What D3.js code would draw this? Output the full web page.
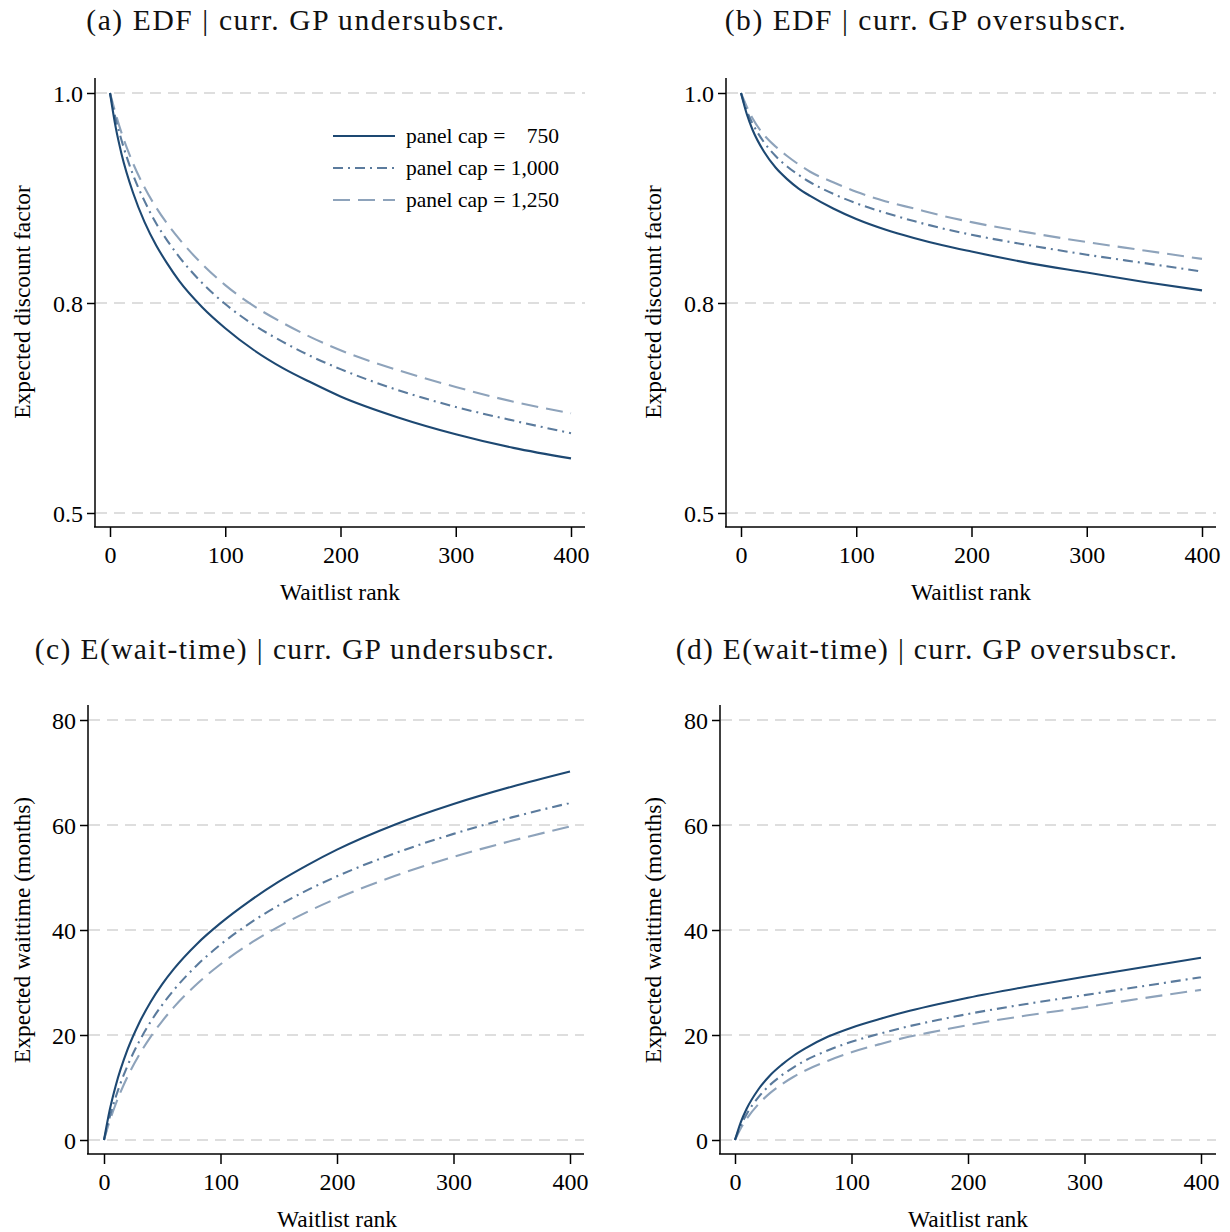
<!DOCTYPE html>
<html><head><meta charset="utf-8">
<script src="https://cdn.jsdelivr.net/npm/d3@7"></script>
<style>body{margin:0;background:#fff}</style>
</head><body>
<svg id="chart" width="1230" height="1232" xmlns="http://www.w3.org/2000/svg"></svg>
<script>
// ---------- data ----------
const ranks = [0,5,10,20,30,40,50,60,80,100,125,150,175,200,250,300,350,400];
const capLabels = ["750","1,000","1,250"];

const edfUnder750  = [1.000,0.967,0.942,0.905,0.877,0.855,0.837,0.821,0.796,0.776,0.755,0.738,0.724,0.711,0.691,0.675,0.662,0.652];
const edfUnder1000 = [1.000,0.975,0.955,0.922,0.897,0.876,0.859,0.844,0.819,0.799,0.779,0.763,0.749,0.737,0.717,0.701,0.688,0.676];
const edfUnder1250 = [1.000,0.980,0.962,0.933,0.910,0.891,0.875,0.861,0.837,0.817,0.797,0.781,0.767,0.755,0.736,0.720,0.706,0.695];

const edfOver750  = [1.000,0.980,0.965,0.944,0.929,0.918,0.909,0.902,0.890,0.880,0.870,0.862,0.855,0.849,0.838,0.829,0.820,0.812];
const edfOver1000 = [1.000,0.983,0.971,0.953,0.940,0.930,0.922,0.915,0.904,0.895,0.886,0.878,0.871,0.865,0.855,0.846,0.838,0.830];
const edfOver1250 = [1.000,0.987,0.976,0.960,0.949,0.940,0.932,0.925,0.915,0.906,0.897,0.890,0.883,0.877,0.867,0.858,0.850,0.842];

const waitUnder750  = [0,5.8,10.3,17.1,22.2,26.3,29.7,32.6,37.4,41.3,45.5,49.2,52.4,55.3,60.1,64.0,67.3,70.2];
const waitUnder1000 = [0,4.45,8.14,14.05,18.69,22.51,25.76,28.59,33.33,37.22,41.27,44.69,47.64,50.23,54.64,58.31,61.45,64.2];
const waitUnder1250 = [0,3.67,6.81,11.98,16.15,19.65,22.66,25.30,29.77,33.47,37.36,40.65,43.51,46.03,50.33,53.92,56.99,59.7];

const waitOver750  = [0,3.42,5.95,9.62,12.29,14.3,16.0,17.4,19.7,21.4,23.1,24.6,25.9,27.1,29.2,31.1,32.9,34.7];
const waitOver1000 = [0,2.80,4.93,8.12,10.48,12.3,13.8,15.1,17.1,18.7,20.3,21.7,22.9,24.0,25.9,27.6,29.3,31.0];
const waitOver1250 = [0,2.23,4.02,6.80,8.92,10.6,12.0,13.2,15.1,16.7,18.3,19.7,20.8,21.9,23.7,25.3,27.0,28.6];

const xTicks = [0,100,200,300,400];
const edfTickValues = [0.6,0.8,1.0];
const edfTickLabels = ["0.5","0.8","1.0"];
const waitTickValues = [0,20,40,60,80];
const waitTickLabels = ["0","20","40","60","80"];

const titles = ["(a) EDF | curr. GP undersubscr.","(b) EDF | curr. GP oversubscr.",
                "(c) E(wait-time) | curr. GP undersubscr.","(d) E(wait-time) | curr. GP oversubscr."];
const xTitle = "Waitlist rank";
const yTitles = ["Expected discount factor","Expected waittime (months)"];

// ---------- styles ----------
const colors = ["#1d4872","#5b7b9d","#8ea3bb"];
const dashes = [null,"10,5,2,5","17,8"];
const serif = "'Liberation Serif', 'Times New Roman', serif";

const svg = d3.select("#chart");

const panels = [
  {title:titles[0], tw:418, tcx:296, tby:30, ax:95, xr:[110,571], xEnd:585, yTop:78, xAxisY:527,
   yd:[0.6,1.0], yr:[513,93], tv:edfTickValues, tl:edfTickLabels, ytitle:yTitles[0], ytx:22, ytcy:302,
   xtcx:340, series:[edfUnder750,edfUnder1000,edfUnder1250], legend:true},
  {title:titles[1], tw:401, tcx:926, tby:30, ax:726, xr:[741,1202], xEnd:1216, yTop:78, xAxisY:527,
   yd:[0.6,1.0], yr:[513,93], tv:edfTickValues, tl:edfTickLabels, ytitle:yTitles[0], ytx:653, ytcy:302,
   xtcx:971, series:[edfOver750,edfOver1000,edfOver1250]},
  {title:titles[2], tw:519, tcx:295, tby:659, ax:88, xr:[104,570], xEnd:584, yTop:705, xAxisY:1154,
   yd:[0,80], yr:[1140,720], tv:waitTickValues, tl:waitTickLabels, ytitle:yTitles[1], ytx:22, ytcy:930,
   xtcx:337, series:[waitUnder750,waitUnder1000,waitUnder1250]},
  {title:titles[3], tw:501, tcx:927, tby:659, ax:720, xr:[735,1201], xEnd:1216, yTop:705, xAxisY:1154,
   yd:[0,80], yr:[1140,720], tv:waitTickValues, tl:waitTickLabels, ytitle:yTitles[1], ytx:653, ytcy:930,
   xtcx:968, series:[waitOver750,waitOver1000,waitOver1250]}
];

function spreadText(sel, target){
  const n = sel.node();
  const w = n.getComputedTextLength();
  const len = sel.text().length;
  if (w>0 && len>1) {
    const ls = Math.max(0,(target-w)/(len-1));
    sel.attr("letter-spacing", ls.toFixed(2));
    if (w>target) sel.attr("font-size", (parseFloat(sel.attr("font-size"))*target/w).toFixed(2));
  }
}

panels.forEach(p=>{
  const g = svg.append("g");
  const x = d3.scaleLinear().domain([0,400]).range(p.xr);
  const y = d3.scaleLinear().domain(p.yd).range(p.yr);

  // title
  const t = g.append("text").attr("x",p.tcx).attr("y",p.tby).attr("text-anchor","middle")
    .attr("font-family",serif).attr("font-size",29.5).attr("fill","#111").text(p.title);
  spreadText(t,p.tw);

  // gridlines
  g.selectAll(".grid").data(p.tv).enter().append("line")
    .attr("x1",p.ax+1).attr("x2",p.xEnd).attr("y1",d=>y(d)).attr("y2",d=>y(d))
    .attr("stroke","#d3d3d3").attr("stroke-width",1.3).attr("stroke-dasharray","11,7");

  // y axis
  const yAxis = d3.axisLeft(y).tickValues(p.tv).tickSize(8).tickFormat((d,i)=>p.tl[i]);
  const ya = g.append("g").attr("transform",`translate(${p.ax},0)`).call(yAxis);
  ya.select(".domain").remove();
  ya.append("line").attr("x1",0).attr("x2",0).attr("y1",p.yTop).attr("y2",p.xAxisY)
    .attr("stroke","#000").attr("stroke-width",1.5);
  ya.selectAll(".tick line").attr("stroke","#000").attr("stroke-width",1.5);
  ya.selectAll(".tick text").attr("font-family",serif).attr("font-size",24).attr("fill","#000")
    .attr("x",-12).attr("dy","0.34em");

  // x axis
  const xAxis = d3.axisBottom(x).tickValues(xTicks).tickSize(10).tickFormat(d3.format("d"));
  const xa = g.append("g").attr("transform",`translate(0,${p.xAxisY})`).call(xAxis);
  xa.select(".domain").remove();
  xa.append("line").attr("x1",p.ax-1).attr("x2",p.xEnd).attr("y1",0).attr("y2",0)
    .attr("stroke","#000").attr("stroke-width",1.5);
  xa.selectAll(".tick line").attr("stroke","#000").attr("stroke-width",1.5);
  xa.selectAll(".tick text").attr("font-family",serif).attr("font-size",24).attr("fill","#000")
    .attr("y",19).attr("dy","0.71em");

  // axis titles
  g.append("text").attr("x",p.xtcx).attr("y",p.xAxisY+73).attr("text-anchor","middle")
    .attr("font-family",serif).attr("font-size",23.5).attr("fill","#000").text(xTitle);
  g.append("text").attr("transform",`translate(${p.ytx+8},${p.ytcy}) rotate(-90)`)
    .attr("text-anchor","middle").attr("font-family",serif).attr("font-size",23.5)
    .attr("fill","#000").text(p.ytitle);

  // lines
  const line = d3.line().x((d,i)=>x(ranks[i])).y(d=>y(d)).curve(d3.curveMonotoneX);
  [2,1,0].forEach(k=>{
    g.append("path").datum(p.series[k]).attr("d",line).attr("fill","none")
      .attr("stroke",colors[k]).attr("stroke-width",2.1)
      .attr("stroke-dasharray",dashes[k]);
  });

  // legend
  if (p.legend){
    const ly = [136,168,200];
    capLabels.forEach((c,k)=>{
      g.append("line").attr("x1",333).attr("x2",395).attr("y1",ly[k]).attr("y2",ly[k])
        .attr("stroke",colors[k]).attr("stroke-width",2.1).attr("stroke-dasharray",dashes[k]);
      g.append("text").attr("x",406).attr("y",ly[k]).attr("dy","0.33em")
        .attr("font-family",serif).attr("font-size",21.5).attr("fill","#000").text("panel cap =");
      g.append("text").attr("x",559).attr("y",ly[k]).attr("dy","0.33em").attr("text-anchor","end")
        .attr("font-family",serif).attr("font-size",21.5).attr("fill","#000").text(c);
    });
  }
});
</script>
</body></html>
